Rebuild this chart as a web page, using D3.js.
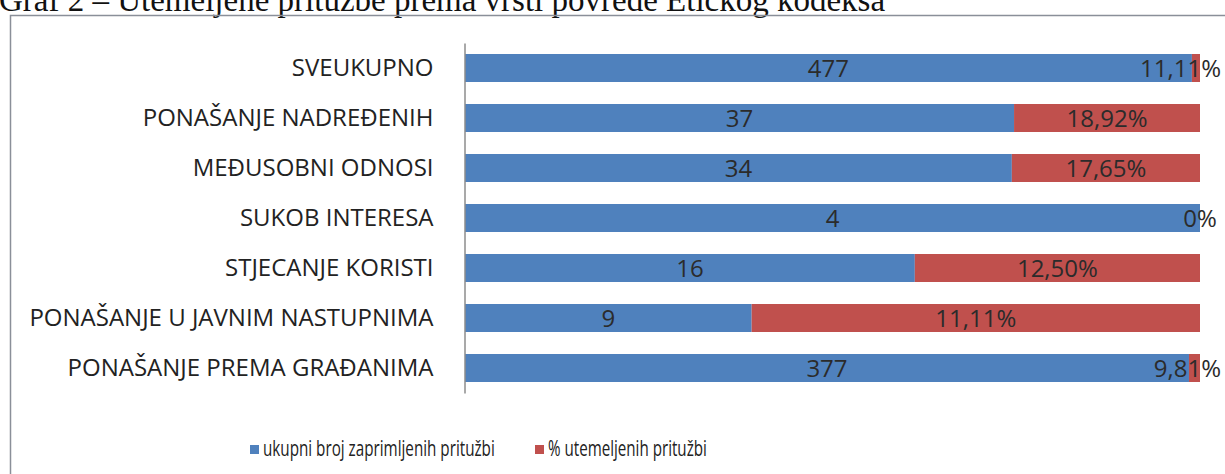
<!DOCTYPE html>
<html>
<head>
<meta charset="utf-8">
<script src="https://cdn.jsdelivr.net/npm/d3@7"></script>
<style>
  body { margin: 0; background: #fff; }
  svg { display: block; }
</style>
</head>
<body>
<svg id="chart"></svg>
<script>
// Categories, top to bottom
const categories = [
    "SVEUKUPNO",
    "PONAŠANJE NADREĐENIH",
    "MEĐUSOBNI ODNOSI",
    "SUKOB INTERESA",
    "STJECANJE KORISTI",
    "PONAŠANJE U JAVNIM NASTUPNIMA",
    "PONAŠANJE PREMA GRAĐANIMA"
];
// total complaints received (blue label)
const totalComplaints = [477, 37, 34, 4, 16, 9, 377];
// % founded complaints (red label)
const foundedPctLabels = ["11,11%", "18,92%", "17,65%", "0%", "12,50%", "11,11%", "9,81%"];
// share of the bar that is blue (percent of full bar)
const blueShare = [98.9, 74.7, 74.4, 100, 61.2, 39.0, 98.5];

const seriesNames = ["ukupni broj zaprimljenih pritužbi", "% utemeljenih pritužbi"];
const colors = ["#4F81BD", "#C0504D"];

const W = 1225, H = 474;
const svg = d3.select("#chart").attr("width", W).attr("height", H);

// title line, cut by the top of the picture (as in the scan)
svg.append("text")
    .attr("x", -1).attr("y", 11)
    .attr("font-family", "Liberation Serif, Times New Roman, serif")
    .attr("font-size", 33)
    .attr("fill", "#111")
    .text("Graf 2 – Utemeljene pritužbe prema vrsti povrede Etičkog kodeksa");

// chart frame
svg.append("rect")
    .attr("x", 10.5).attr("y", 15.5)
    .attr("width", 1300).attr("height", 500)
    .attr("fill", "none")
    .attr("stroke", "#8a8f99")
    .attr("stroke-width", 1.5);

const x = d3.scaleLinear().domain([0, 100]).range([465, 1200]);
const y = d3.scaleBand().domain(categories).range([43, 393])
    .paddingInner(0.44).paddingOuter(0.22);

const rows = categories.map((c, i) => ({
    cat: c, total: totalComplaints[i], pct: foundedPctLabels[i], blue: blueShare[i]
}));

const g = svg.append("g");

// blue segments
g.selectAll(".blue").data(rows).join("rect")
    .attr("class", "blue")
    .attr("x", x(0))
    .attr("y", d => y(d.cat))
    .attr("width", d => x(d.blue) - x(0))
    .attr("height", y.bandwidth())
    .attr("fill", colors[0]);

// red segments
g.selectAll(".red").data(rows).join("rect")
    .attr("class", "red")
    .attr("x", d => x(d.blue))
    .attr("y", d => y(d.cat))
    .attr("width", d => x(100) - x(d.blue))
    .attr("height", y.bandwidth())
    .attr("fill", colors[1]);

// vertical category axis
const yAxis = d3.axisLeft(y).tickSize(0).tickPadding(31);
const axisG = svg.append("g")
    .attr("transform", `translate(${x(0) - 0.5},0)`)
    .call(yAxis);
axisG.select(".domain").attr("stroke", "#8c8c8c").attr("stroke-width", 1.5);
axisG.selectAll("text")
    .attr("font-family", "Open Sans, sans-serif")
    .attr("font-size", 24)
    .attr("dy", "0.34em")
    .attr("fill", "#222");

const labelFont = "Open Sans, sans-serif";

// value labels in blue segments
g.selectAll(".lblBlue").data(rows).join("text")
    .attr("class", "lblBlue")
    .attr("x", d => (x(0) + x(d.blue)) / 2)
    .attr("y", d => y(d.cat) + y.bandwidth() / 2)
    .attr("dy", "0.36em")
    .attr("text-anchor", "middle")
    .attr("font-family", labelFont)
    .attr("font-size", 24)
    .attr("fill", "#2b2b2b")
    .text(d => d.total);

// percent labels in red segments, kept inside the chart area on the right
g.selectAll(".lblRed").data(rows).join("text")
    .attr("class", "lblRed")
    .attr("y", d => y(d.cat) + y.bandwidth() / 2)
    .attr("dy", "0.36em")
    .attr("text-anchor", "middle")
    .attr("font-family", labelFont)
    .attr("font-size", 24)
    .attr("fill", "#2b2b2b")
    .text(d => d.pct)
    .attr("x", function (d) {
        const w = this.getComputedTextLength();
        const cx = (x(d.blue) + x(100)) / 2;
        return Math.min(cx, 1221 - w / 2);
    });

// legend (text squeezed horizontally like the narrow legend font)
const legend = svg.append("g");
const legendX = [250, 535];
const legendTextLen = [232, 159];
seriesNames.forEach((name, i) => {
    legend.append("rect")
        .attr("x", legendX[i]).attr("y", 445)
        .attr("width", 9).attr("height", 9)
        .attr("fill", colors[i]);
    const t = legend.append("text")
        .attr("font-family", "Open Sans, sans-serif")
        .attr("font-size", 21)
        .attr("fill", "#222")
        .text(name);
    const sx = legendTextLen[i] / t.node().getComputedTextLength();
    t.attr("transform", `translate(${legendX[i] + 13},456) scale(${sx},1)`);
});
</script>
</body>
</html>
